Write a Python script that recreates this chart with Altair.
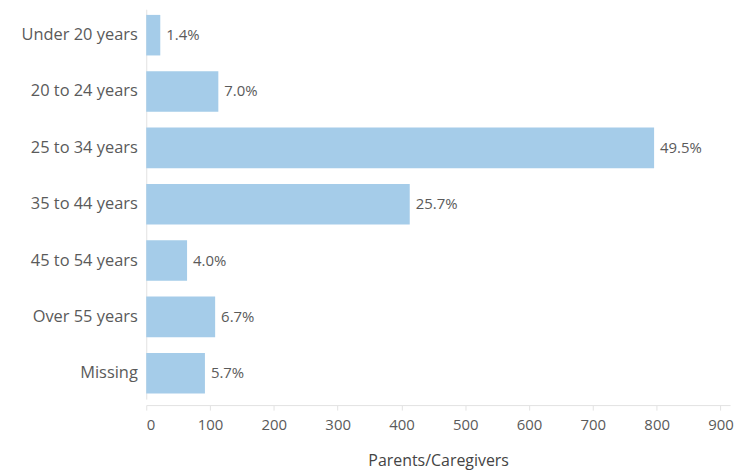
import altair as alt
import pandas as pd

categories = ["Under 20 years", "20 to 24 years", "25 to 34 years", "35 to 44 years",
              "45 to 54 years", "Over 55 years", "Missing"]
counts = [22, 113, 796, 413, 64, 108, 92]
pct_labels = ["1.4%", "7.0%", "49.5%", "25.7%", "4.0%", "6.7%", "5.7%"]

df = pd.DataFrame({"cat": categories, "n": counts, "lab": pct_labels})

FONT = "Open Sans"
GREY = "#5a5a5a"

y = alt.Y("cat:N", sort=categories, title=None,
          scale=alt.Scale(paddingInner=0.28, paddingOuter=0.1),
          axis=alt.Axis(ticks=False, labelFontSize=16.5, labelColor=GREY, labelFont=FONT,
                        labelPadding=9, minExtent=139, domainColor="#e2e2e2", domainWidth=1))
x = alt.X("n:Q", title="Parents/Caregivers",
          scale=alt.Scale(domain=[0, 915], nice=False),
          axis=alt.Axis(values=list(range(0, 901, 100)), grid=False, tickColor="#e2e2e2",
                        tickSize=5, domainColor="#e2e2e2", labelFontSize=15, labelColor=GREY,
                        labelFont=FONT, labelPadding=8, offset=6, titleFont=FONT, titleFontSize=16,
                        titleColor="#444444", titleFontWeight="normal", titlePadding=20))

bars = alt.Chart(df).mark_bar(color="#a5cce9").encode(x=x, y=y)
text = alt.Chart(df).mark_text(align="left", dx=6, font=FONT, fontSize=15, color=GREY).encode(
    x="n:Q", y=alt.Y("cat:N", sort=categories), text="lab:N")

chart = (bars + text).properties(
    width=587, height=392,
    padding={"left": 0, "top": 0, "right": 0, "bottom": 0},
).configure_view(stroke=None)
chart.save("out.html", embed_options={"renderer": "svg", "actions": False})
